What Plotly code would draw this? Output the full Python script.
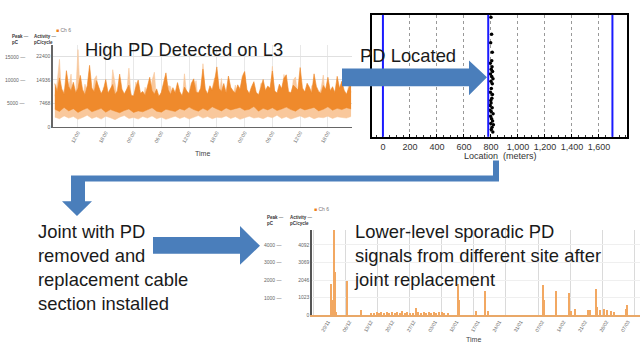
import numpy as np
import plotly.graph_objects as go

W, H = 640, 347

# ---------------- data ----------------
# Top-left: PD activity trend before repair (hours, pC/cycle)
trend_hours_fine = np.arange(-5.0, 59.01, 0.5)
trend_hours_coarse = np.arange(-5.0, 59.01, 1.0)
dark_high = [
 13800, 11200, 15600, 12100, 10400, 17900, 12800, 11500, 14200, 10900,
 12300, 16400, 11800, 10200, 13100, 19600, 12400, 11100, 14700, 12900,
 10600, 11900, 15100, 10800, 12200, 13500, 10300, 11400, 16800, 12000,
 10500, 11700, 13300, 10100, 9800, 12600, 14900, 10700, 11300, 10000,
 12900, 15800, 11600, 10400, 12100, 9700, 11000, 13700, 17200, 11800,
 10300, 12500, 10900, 14100, 11200, 9900, 12700, 11400, 10600, 13900,
 15300, 11100, 10800, 12300, 18400, 12000, 10500, 13100, 11700, 14600,
 19100, 12200, 11300, 13800, 10900, 16200, 12600, 11500, 10700, 13400,
 12100, 15700, 17600, 11900, 10600, 12800, 14400, 11000, 10200, 12500,
 15100, 11600, 13000, 12300, 17800, 11400, 10800, 13600, 12200, 15500,
 16600, 11200, 10900, 13300, 12700, 11800, 18900, 12400, 11100, 13900,
 12600, 10700, 16900, 12900, 11300, 10600, 13200, 12000, 15800, 11500,
 12800, 10900, 16100, 12300, 14500, 11700, 10400, 12600, 14200]
dark_low = [
 5600, 4900, 6200, 5100, 5800, 4600, 5400, 6000, 4800, 5300,
 5900, 4700, 5500, 5000, 4500, 5200, 5700, 4600, 5100, 4800,
 5400, 6100, 5000, 4700, 5600, 5200, 4900, 5800, 5300, 6300,
 5500, 5000, 5900, 5200, 6400, 5700, 5100, 6000, 5400, 5800,
 6200, 5300, 5600, 6500, 5000, 5900, 5400, 6100, 5200, 5700,
 6300, 5500, 5000, 6000, 5400, 5800, 6200, 5100, 5600, 6400,
 5300, 5900, 5500, 6100, 5700]
light_high = [
 9800, 14200, 21500, 8600, 11900, 7800, 12400, 16800, 7600, 10200,
 24600, 9300, 8900, 13600, 11700, 8200, 7200, 15100, 16300, 9700,
 8400, 12500, 10600, 7500, 7900, 18200, 13900, 8800, 9100, 11400,
 7400, 10700, 18700, 9200, 8600, 14300, 11200, 7900, 7100, 12600,
 9600, 8300, 14800, 17400, 7700, 9900, 10300, 8500, 8100, 13100,
 12900, 9400, 7500, 11800, 9300, 8000, 16900, 10100, 8700, 7800,
 11600, 14700, 7800, 9500, 20100, 10900, 9000, 8300, 12200, 15600,
 8300, 10400, 15400, 7900, 10100, 12800, 7300, 9600, 13300, 8900,
 9500, 16300, 17600, 8400, 8000, 11500, 11900, 9700, 7600, 13800,
 14200, 8600, 9200, 10700, 19300, 9100, 8500, 12400, 10800, 16700,
 12600, 8800, 7900, 14900, 15900, 9300, 9400, 11600, 11300, 8200,
 8200, 13100, 13600, 9000, 10400, 12100, 16500, 8700, 9900, 10600,
 7700, 11400, 12800, 8900, 14400, 9800, 8800, 13700, 11000]
light_low = [
 3100, 2600, 3500, 2800, 3300, 2400, 3000, 3700, 2700, 3200,
 2500, 3400, 2900, 2300, 3100, 3600, 2700, 3000, 2500, 3300,
 2800, 3500, 2600, 3100, 2400, 2900, 3400, 2700, 3200, 2500,
 3000, 3600, 2800, 3300, 2600, 3100, 2900, 3500, 2700, 3200,
 2400, 3000, 3400, 2800, 3100, 2600, 3300, 2900, 3700, 2700,
 3200, 2500, 3000, 3500, 2800, 3300, 2600, 3100, 2900, 3400,
 2700, 3200, 3000, 2800, 3300]
trend_tickvals = [0, 6, 12, 18, 24, 30, 36, 42, 48, 54]
trend_ticktext = ["12:00", "18:00", "00:00", "06:00", "12:00", "18:00", "00:00", "06:00", "12:00", "18:00"]
act_ticks_top = [0, 7468, 14936, 22400]
peak_labels_top = ["5000", "10000", "15000"]

# Top-right: PD location map
loc_ticks = [0, 200, 400, 600, 800, 1000, 1200, 1400, 1600]
loc_ticktext = ["0", "200", "400", "600", "800", "1,000", "1,200", "1,400", "1,600"]
cable_markers = [0, 780, 1700]
pd_loc_x = [800, 805, 798, 810, 795, 808, 802, 812, 797, 806, 815, 800, 803, 796, 811, 807, 799,
            794, 809, 802, 816, 797, 805, 812, 799, 808, 803, 814, 806, 810, 801, 793, 818]
pd_loc_y = [0.98, 0.84, 0.77, 0.69, 0.60, 0.57, 0.55, 0.53, 0.51, 0.49, 0.47, 0.45, 0.39, 0.36,
            0.34, 0.31, 0.29, 0.25, 0.23, 0.20, 0.18, 0.16, 0.14, 0.12, 0.10, 0.07, 0.05, 0.03,
            0.62, 0.43, 0.27, 0.21, 0.09]

# Bottom-right: PD activity after repair (days, pC/cycle)
after_days = [0.9, 1.4, 1.9, 2.2, 2.8, 6.1, 10.7, 14.2, 15.0, 15.9, 16.8, 17.5, 18.4, 19.3, 20.1,
              21.0, 21.8, 22.6, 23.5, 24.3, 25.2, 26.0, 26.9, 27.7, 28.7, 29.6, 30.4, 31.3, 32.1,
              33.0, 33.8, 34.7, 35.5, 36.4, 37.2, 38.1, 39.1, 42.4, 42.7, 48.3, 51.5, 52.2, 70.2,
              70.5, 74.4, 78.7, 79.3, 80.9, 84.9, 85.8, 87.5, 88.1, 89.1, 90.2, 91.3, 92.4, 93.5,
              97.4, 97.9]
after_activity = [1800, 900, 4980, 2500, 200, 2000, 300, 160, 120, 190, 140, 210, 130, 170, 110,
                  200, 150, 180, 120, 220, 140, 190, 160, 130, 450, 170, 140, 200, 120,
                  180, 150, 210, 130, 170, 200, 140, 150, 1800, 900, 250, 1400, 250, 1750,
                  900, 1400, 1300, 250, 350, 300, 320, 1500, 500, 300, 350, 280, 250, 200,
                  350, 600]
after_tickvals = [0, 7, 14, 21, 28, 35, 42, 49, 56, 63, 70, 77, 84, 91, 98]
after_ticktext = ["29/11", "06/12", "13/12", "20/12", "27/12", "03/01", "10/01", "17/01",
                  "24/01", "31/01", "07/02", "14/02", "21/02", "28/02", "07/03"]
act_ticks_bot = [0, 1023, 2046, 3069, 4092]
peak_labels_bot = ["1000", "2000", "3000", "4000"]

# ---------------- helpers ----------------
def px(x):
    return x / W

def py(y):
    return 1 - y / H

def poly(points):
    return "M " + " L ".join(f"{px(x):.5f},{py(y):.5f}" for x, y in points) + " Z"

FONT = "Liberation Sans, Arial, sans-serif"
BLUE = "#4A7EBB"
ORANGE = "#EE7F1A"
DARK_OR = "#EF8A2C"
LIGHT_OR = "#F9C89C"

fig = go.Figure()

# top-left bands (light envelope, then dark envelope)
fig.add_trace(go.Scatter(x=trend_hours_coarse, y=light_low, mode="lines",
                         line=dict(color=LIGHT_OR, width=0.5), xaxis="x", yaxis="y",
                         showlegend=False, hoverinfo="skip"))
fig.add_trace(go.Scatter(x=trend_hours_fine, y=light_high, mode="lines", fill="tonexty",
                         fillcolor=LIGHT_OR, line=dict(color=LIGHT_OR, width=0.6),
                         xaxis="x", yaxis="y", showlegend=False, hoverinfo="skip"))
fig.add_trace(go.Scatter(x=trend_hours_coarse, y=dark_low, mode="lines",
                         line=dict(color=DARK_OR, width=0.5), xaxis="x", yaxis="y",
                         showlegend=False, hoverinfo="skip"))
fig.add_trace(go.Scatter(x=trend_hours_fine, y=dark_high, mode="lines", fill="tonexty",
                         fillcolor=DARK_OR, line=dict(color=DARK_OR, width=0.6),
                         xaxis="x", yaxis="y", showlegend=False, hoverinfo="skip"))

# top-right
fig.add_trace(go.Scatter(x=pd_loc_x, y=pd_loc_y, mode="markers",
                         marker=dict(color="black", size=3.5), xaxis="x2", yaxis="y2",
                         showlegend=False, hoverinfo="skip"))

# bottom-right
fig.add_trace(go.Bar(x=after_days, y=after_activity, width=0.35,
                     marker=dict(color="#F2A862", line=dict(width=0)),
                     xaxis="x3", yaxis="y3", showlegend=False, hoverinfo="skip"))

small = dict(family=FONT, size=5, color="#666")

fig.update_layout(
    width=W, height=H, margin=dict(l=0, r=0, t=0, b=0),
    paper_bgcolor="white", plot_bgcolor="white",
    font=dict(family=FONT),
    bargap=0,
    xaxis=dict(domain=[px(53), px(352)], range=[-5.4, 59.2], tickmode="array",
               tickvals=trend_tickvals, ticktext=trend_ticktext, tickangle=-60,
               tickfont=small, showgrid=True, gridcolor="#e8e8e8", showline=True,
               linecolor="#666", linewidth=1, zeroline=False, ticks=""),
    yaxis=dict(domain=[py(128), py(45)], range=[0, 26200], tickmode="array",
               tickvals=act_ticks_top, ticktext=[str(v) for v in act_ticks_top],
               tickfont=small, showgrid=True, gridcolor="#e0e0e0", showline=True,
               linecolor="#666", linewidth=1.5, zeroline=False, ticks=""),
    xaxis2=dict(domain=[px(372), px(627)], range=[-81, 1808], tickmode="array",
                tickvals=loc_ticks, ticktext=loc_ticktext,
                tickfont=dict(family=FONT, size=9, color="#333"),
                showgrid=True, gridcolor="#999", griddash="dot", gridwidth=1,
                showline=True, mirror=True, linecolor="black", linewidth=2,
                zeroline=False, ticks="inside", ticklen=3, tickcolor="black",
                minor=dict(dtick=50, ticks="inside", ticklen=2, tickcolor="#333"),
                anchor="y2"),
    yaxis2=dict(domain=[py(138), py(15)], range=[-0.01, 1.0], showticklabels=False,
                showgrid=False, showline=True, mirror=True, linecolor="black",
                linewidth=2, zeroline=False, ticks="", anchor="x2"),
    xaxis3=dict(domain=[px(312), 1.0], range=[-5.2, 102], tickmode="array",
                tickvals=after_tickvals, ticktext=after_ticktext, tickangle=-60,
                tickfont=small, showgrid=False, showline=True, linecolor="#E9A868",
                linewidth=1.5, zeroline=False, ticks="",
                minor=dict(tick0=5.7, dtick=10.5, showgrid=True, gridcolor="#dadada"),
                anchor="y3"),
    yaxis3=dict(domain=[py(318), py(232)], range=[0, 4960], tickmode="array",
                tickvals=act_ticks_bot, ticktext=[str(v) for v in act_ticks_bot],
                tickfont=small, showgrid=True, gridcolor="#efefef", showline=True,
                linecolor="#555", linewidth=1.5, zeroline=False, ticks="", anchor="x3"),
)

shapes = []
for m in cable_markers:
    shapes.append(dict(type="line", xref="x2", yref="y2 domain", x0=m, x1=m, y0=0, y1=1,
                       line=dict(color="#1a1aff", width=2), layer="above"))
arrow1 = [(342, 69), (469, 69), (469, 61), (487, 78), (469, 96), (469, 87), (342, 87)]
connector = [(493, 162), (499, 162), (499, 183), (85, 183), (85, 203), (92, 203), (77, 218),
             (62, 203), (71, 203), (71, 177), (493, 177)]
arrow2 = [(153, 239), (240, 239), (240, 228), (260, 248), (240, 267), (240, 256), (153, 256)]
for pts in (arrow1, connector, arrow2):
    shapes.append(dict(type="path", xref="paper", yref="paper", path=poly(pts),
                       fillcolor=BLUE, line=dict(width=0), layer="above"))
fig.update_layout(shapes=shapes)

ann = []
def text(x, y, s, size=18.4, color="#1a1a1a", xanchor="left", yanchor="middle"):
    ann.append(dict(x=px(x), y=py(y), xref="paper", yref="paper", text=s, showarrow=False,
                    xanchor=xanchor, yanchor=yanchor, align="left",
                    font=dict(family=FONT, size=size, color=color)))

text(83, 50, "High PD Detected on L3")
text(358, 56, "PD Located")
text(36, 221, "Joint with PD<br>removed and<br>replacement cable<br>section installed",
     yanchor="top")
text(352, 221, "Lower-level sporadic PD<br>signals from different site after<br>joint replacement",
     yanchor="top")

# top-left chart small labels
text(54, 30, f"<span style='color:{ORANGE}'>■</span> Ch 6", size=5, color="#777")
text(10, 40, "<b>Peak</b> —<br><b>pC</b>", size=4.5, color="#333")
text(32, 40, "<b>Activity</b> —<br><b>pC/cycle</b>", size=4.5, color="#333")
for v, lab in zip(act_ticks_top[1:], peak_labels_top):
    ann.append(dict(x=px(27), y=v, xref="paper", yref="y", text=lab + " —", showarrow=False,
                    xanchor="right", yanchor="middle", font=small))
text(202, 155, "Time", size=7, color="#444", xanchor="center")

text(500, 157, "Location  (meters)", size=9, color="#333", xanchor="center")

# bottom chart small labels
text(312, 211, f"<span style='color:{ORANGE}'>■</span> Ch 6", size=5, color="#777")
text(265, 222, "<b>Peak</b> —<br><b>pC</b>", size=4.5, color="#333")
text(288, 222, "<b>Activity</b> —<br><b>pC/cycle</b>", size=4.5, color="#333")
for v, lab in zip(act_ticks_bot[1:], peak_labels_bot):
    ann.append(dict(x=px(284), y=v, xref="paper", yref="y3", text=lab + " —", showarrow=False,
                    xanchor="right", yanchor="middle", font=small))
text(473, 342, "Time", size=7, color="#444", xanchor="center")

fig.update_layout(annotations=ann)
fig.write_html("out.html", config={"displayModeBar": False},
               post_script="document.body.style.margin='0';document.body.style.padding='0';"
                           "document.body.style.overflow='hidden';")
